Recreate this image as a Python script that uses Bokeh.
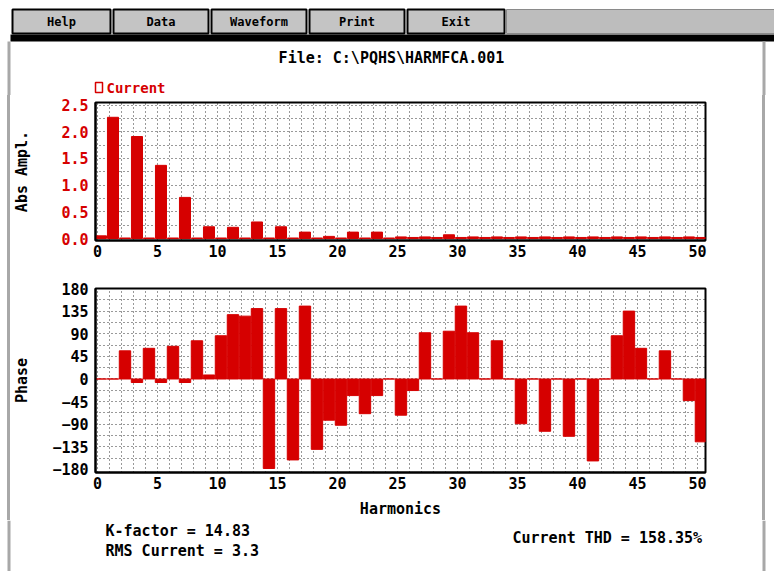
from bokeh.plotting import figure
from bokeh.layouts import column
from bokeh.models import (Range1d, FixedTicker, PrintfTickFormatter, ColumnDataSource)
from bokeh.transform import dodge
from bokeh.core.properties import value
from bokeh.embed import file_html
from bokeh.resources import INLINE

# ---- spectrum data -------------------------------------------------------
harmonics = list(range(0, 51))
amplitude = [0.05, 2.27, 0.01, 1.91, 0.01, 1.37, 0.01, 0.77, 0.01, 0.22,
             0.01, 0.21, 0.01, 0.31, 0.01, 0.22, 0.01, 0.12, 0.01, 0.04,
             0.01, 0.12, 0.01, 0.12, 0.01, 0.03, 0.02, 0.03, 0.02, 0.07,
             0.02, 0.03, 0.02, 0.03, 0.02, 0.03, 0.02, 0.03, 0.02, 0.03,
             0.02, 0.03, 0.02, 0.03, 0.02, 0.03, 0.02, 0.03, 0.02, 0.03,
             0.02]
phase = [0, 0, 56, -7, 61, -7, 65, -7, 76, 8,
         86, 128, 125, 140, -178, 140, -161, 145, -140, -82,
         -92, -33, -69, -33, 0, -72, -23, 92, 0, 95,
         145, 92, 0, 76, 0, -89, 0, -104, 0, -114,
         0, -163, 0, 86, 135, 61, 0, 56, 0, -43,
         -125]

x_ticks = [0, 5, 10, 15, 20, 25, 30, 35, 40, 45, 50]
amp_ticks = [0.0, 0.5, 1.0, 1.5, 2.0, 2.5]
amp_grid = [0.25, 0.5, 0.75, 1.0, 1.25, 1.5, 1.75, 2.0, 2.25, 2.5]
phase_ticks = [-180, -135, -90, -45, 0, 45, 90, 135, 180]
phase_grid = [-157.5, -135, -112.5, -90, -67.5, -45, -22.5, 0, 22.5, 45,
              67.5, 90, 112.5, 135, 157.5]
buttons = ["Help", "Data", "Waveform", "Print", "Exit"]
button_left = [12, 113, 211, 309, 407]
button_right = [110, 208, 306, 404, 504]

file_title = "File: C:\\PQHS\\HARMFCA.001"
series_name = "Current"
k_factor_text = "K-factor = 14.83"
rms_text = "RMS Current = 3.3"
thd_text = "Current THD = 158.35%"

RED = "#d60000"
GRAY = "#a8a8a8"
FONT = "DejaVu Sans Mono"
W = 774

src = ColumnDataSource(dict(h=harmonics, amp=amplitude, ph=phase))


def strip(h):
    p = figure(width=W, height=h, x_range=Range1d(0, W), y_range=Range1d(h, 0),
               toolbar_location=None, output_backend="svg", min_border=0,
               x_axis_location=None, y_axis_location=None)
    p.grid.visible = False
    p.outline_line_color = None
    p.background_fill_color = "white"
    return p


# ---- header: menu bar, file name, legend ---------------------------------
HH = 95
head = strip(HH)
head.quad(left=[506], right=[774], top=[9], bottom=[33],
          fill_color="#bdbdbd", line_color="#8a8a8a")
head.quad(left=button_left, right=button_right, top=9, bottom=33,
          fill_color="#c4c4c4", line_color="black", line_width=2)
head.text(x=[(a + b) / 2 for a, b in zip(button_left, button_right)], y=21,
          text=buttons, text_align="center", text_baseline="middle",
          text_font=value(FONT), text_font_style="bold", text_font_size="12px",
          text_color="black")
head.quad(left=[10], right=[774], top=[34], bottom=[41], fill_color="black",
          line_color=None)
head.quad(left=[7], right=[10], top=[41], bottom=[HH], fill_color=GRAY, line_color=None)
head.quad(left=[762], right=[765], top=[41], bottom=[HH], fill_color=GRAY, line_color=None)
head.text(x=[391], y=[57], text=[file_title], text_align="center",
          text_baseline="middle", text_font=value(FONT), text_font_style="bold",
          text_font_size="15px", text_color="black")
head.quad(left=[95], right=[102], top=[82], bottom=[92], fill_color=None,
          line_color=RED, line_width=1.5)
head.text(x=[106], y=[87], text=[series_name], text_align="left",
          text_baseline="middle", text_font=value(FONT), text_font_style="bold",
          text_font_size="14px", text_color=RED)


def style_axes(p, label_color):
    for ax in (p.xaxis[0], p.yaxis[0]):
        ax.major_tick_in = 0
        ax.major_tick_out = 0
        ax.minor_tick_in = 0
        ax.minor_tick_out = 0
        ax.axis_line_color = "black"
        ax.axis_line_width = 2
        ax.major_label_text_font = FONT
        ax.major_label_text_font_style = "bold"
        ax.major_label_text_font_size = "15px"
        ax.axis_label_text_font = FONT
        ax.axis_label_text_font_style = "bold"
        ax.axis_label_text_font_size = "15px"
        ax.axis_label_text_color = "black"
    p.xaxis[0].major_label_text_color = "black"
    p.yaxis[0].major_label_text_color = label_color
    p.xaxis[0].ticker = FixedTicker(ticks=x_ticks)
    p.xaxis[0].major_label_standoff = 4
    p.yaxis[0].major_label_standoff = 7
    p.outline_line_color = "black"
    p.outline_line_width = 2
    p.xgrid[0].ticker = FixedTicker(ticks=harmonics)
    for g in (p.xgrid[0], p.ygrid[0]):
        g.grid_line_color = "black"
        g.grid_line_alpha = 0.8
        g.grid_line_dash = "1 3"
        g.grid_line_width = 1
    # transparent margins let the window edges of the page show through
    p.border_fill_alpha = 0


X0, X1 = -0.167, 50.67

# ---- amplitude spectrum --------------------------------------------------
TH = 167
top = figure(width=W, height=TH, x_range=Range1d(X0, X1),
             y_range=Range1d(-0.037, 2.547), toolbar_location=None,
             output_backend="svg", min_border_left=95, min_border_right=69,
             min_border_top=7, min_border_bottom=22)
top.vbar(x=dodge("h", 0.29), top="amp", bottom=0, width=0.92, source=src,
         fill_color=RED, line_color=RED, line_width=1)
style_axes(top, RED)
top.yaxis[0].ticker = FixedTicker(ticks=amp_ticks)
top.yaxis[0].formatter = PrintfTickFormatter(format="%.1f")
top.yaxis[0].axis_label = "Abs Ampl."
top.yaxis[0].axis_label_standoff = 27
top.ygrid[0].ticker = FixedTicker(ticks=amp_grid)

# ---- phase spectrum ------------------------------------------------------
BH = 258
bot = figure(width=W, height=BH, x_range=Range1d(X0, X1),
             y_range=Range1d(-186, 180), toolbar_location=None,
             output_backend="svg", min_border_left=95, min_border_right=69,
             min_border_top=26, min_border_bottom=48)
bot.vbar(x=dodge("h", 0.29), top="ph", bottom=0, width=0.95, source=src,
         fill_color=RED, line_color=RED, line_width=1)
style_axes(bot, "black")
bot.yaxis[0].ticker = FixedTicker(ticks=phase_ticks)
bot.yaxis[0].axis_label = "Phase"
bot.yaxis[0].axis_label_standoff = 18
bot.xaxis[0].axis_label = "Harmonics"
bot.xaxis[0].axis_label_standoff = 8
bot.ygrid[0].ticker = FixedTicker(ticks=phase_grid)

# ---- footer: summary figures --------------------------------------------
FH = 51
foot = strip(FH)
foot.quad(left=[7], right=[10], top=[0], bottom=[FH], fill_color=GRAY, line_color=None)
foot.quad(left=[762], right=[765], top=[0], bottom=[FH], fill_color=GRAY, line_color=None)
foot.text(x=[105, 105], y=[10, 30], text=[k_factor_text, rms_text],
          text_align="left", text_baseline="middle", text_font=value(FONT),
          text_font_style="bold", text_font_size="15px", text_color="black")
foot.text(x=[512], y=[17], text=[thd_text], text_align="left",
          text_baseline="middle", text_font=value(FONT), text_font_style="bold",
          text_font_size="15px", text_color="black")

edges = ("linear-gradient(to right, white 0px, white 7px, #a8a8a8 7px, #a8a8a8 10px, "
         "white 10px, white 762px, #a8a8a8 762px, #a8a8a8 765px, white 765px)")
charts = column(top, bot, spacing=0, styles={"background": edges})
page = column(head, charts, foot, spacing=0)
open("out.html", "w").write(file_html(page, INLINE))
